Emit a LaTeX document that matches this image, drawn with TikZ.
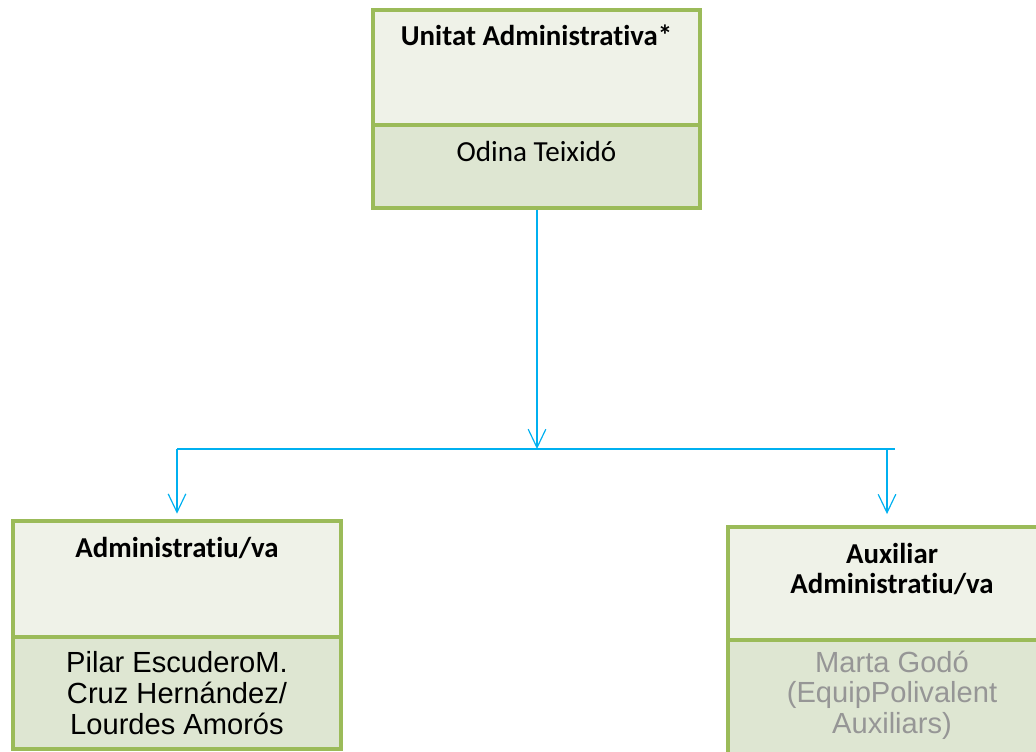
\documentclass[tikz,border=0pt]{standalone}
\usepackage{fontspec}
\setmainfont{Carlito}[Ligatures=NoCommon]
\newfontfamily\arialfont{Liberation Sans}
\usetikzlibrary{arrows.meta, positioning}
\definecolor{cBorder}{RGB}{155,187,89}
\definecolor{cHead}{RGB}{239,242,232}
\definecolor{cName}{RGB}{222,230,210}
\definecolor{cLink}{RGB}{0,176,240}
\definecolor{cGrey}{RGB}{150,150,150}
\tikzset{
	hdrbox/.style ={rectangle, draw=cBorder, line width=2.4pt, fill=cHead, minimum width=8.2cm, inner sep=0pt},
	namebox/.style={rectangle, draw=cBorder, line width=2.4pt, fill=cName, minimum width=8.2cm, inner sep=0pt},
	ttl/.style    ={font=\bfseries\fontsize{20.5}{20.8}\selectfont, align=center, inner sep=0pt},
	who/.style    ={font=\arialfont\fontsize{20.7}{21.8}\selectfont, align=center, inner sep=0pt},
	% connector styles
	link/.style   ={draw=cLink, line width=0.85pt},
	arr/.style    ={link, -{Straight Barb[length=4.6mm, width=4.4mm]}},
}

\begin{document}
\begin{tikzpicture}[x=0.025cm, y=-0.025cm]
	\useasboundingbox (0,0) rectangle (1036,751);
	\clip (0,0) rectangle (1036,751);
	% top unit
	\node[hdrbox, minimum width=8.175cm, minimum height=2.875cm] (topHdr) at (536.5,67.5) {};
	\node[namebox, minimum width=8.175cm, minimum height=2.075cm] (topName) at (536.5,166.5) {};
	\node[ttl] (topTtl) at (536.5,35) {Unitat Administrativa*};
	\node[ttl, font=\fontsize{20.7}{21}\selectfont] (topWho) at (536.5,151) {Odina Teixidó};
	% left unit
	\node[hdrbox, minimum height=2.9cm] (admHdr) at (177,579) {};
	\node[namebox, minimum height=2.8cm] (admName) at (177,693) {};
	\node[ttl] (admTtl) at (177,548) {Administratiu/va};
	\node[who] (admWho) at (177,693) {Pilar EscuderoM.\\Cruz Hernández/\\Lourdes Amorós};
	% right unit
	\node[hdrbox, minimum height=2.825cm] (auxHdr) at (892,583.5) {};
	\node[namebox, minimum height=2.875cm] (auxName) at (892,697.5) {};
	\node[ttl] (auxTtl) at (892,569) {Auxiliar\\Administratiu/va};
	\node[who, text=cGrey] (auxWho) at (892,695) {Marta Godó\\(EquipPolivalent\\Auxiliars)};
	% connectors
	\coordinate (joint) at (537,383);
	\coordinate (barM) at (537,449);
	\coordinate (barL) at (177,449);
	\coordinate (barR) at (895,449);
	\coordinate (barAux) at (887,449);
	\draw[link, line width=1.5pt] (topName.south -| joint) -- (joint);
	\draw[arr] (joint) -- (barM);
	\draw[link, line width=1.5pt] (barL) -- (barR);
	\draw[arr, shorten >=4pt] (barL) -- (admHdr.north);
	\draw[arr, shorten >=8pt] (barAux) -- (barAux |- auxHdr.north);
\end{tikzpicture}
\end{document}
